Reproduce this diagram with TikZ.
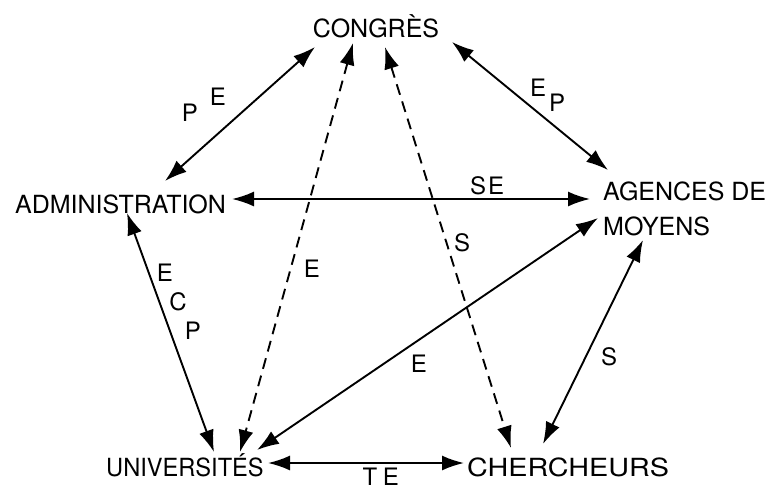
\documentclass[tikz,border=0pt]{standalone}
\usepackage{fontspec}
\setmainfont{TeX Gyre Heros}
\usetikzlibrary{arrows.meta}
\begin{document}
\begin{tikzpicture}[x=1pt,y=-1pt,
  lbl/.style={inner sep=0pt,font=\fontsize{24}{28}\selectfont},
  place/.style={inner sep=0pt,font=\fontsize{25}{34}\selectfont},
  conn/.style={line width=1.9pt,{Latex[length=22pt,width=15pt]}-{Latex[length=22pt,width=15pt]}},
  dconn/.style={conn,dash pattern=on 11pt off 7pt}]
\useasboundingbox (0,0) rectangle (769,491);
% places
\node[place,anchor=base] (cong) at (376,37) {CONGRÈS};
\node[place,anchor=base west] (adm) at (15,213) {ADMINISTRATION};
\node[place,anchor=base west] (age) at (603,200) {AGENCES DE};
\node[place,anchor=base west] (age2) at (603,235) {MOYENS};
\node[place,anchor=base west] (univ) at (106,476) {\scalebox{0.945}[1]{UNIVERSITÉS}};
\node[place,anchor=base west] (cher) at (467,476) {\scalebox{1.15}[1]{CHERCHEURS}};
% connector ends
\coordinate (c1) at (315,47);  \coordinate (a1) at (165,181);
\coordinate (c2) at (452,42);  \coordinate (g1) at (608,170);
\coordinate (a2) at (232,199); \coordinate (g2) at (590,199);
\coordinate (a3) at (127,213); \coordinate (u1) at (214,452);
\coordinate (g3) at (598,218); \coordinate (u2) at (257,450);
\coordinate (g4) at (643,240); \coordinate (h1) at (543,444);
\coordinate (u3) at (268,463); \coordinate (h2) at (464,463);
\coordinate (c3) at (353,43);  \coordinate (u4) at (240,452);
\coordinate (c4) at (385,47);  \coordinate (h3) at (511,448);
% connectors
\draw[conn] (c1) -- (a1);
\draw[conn] (c2) -- (g1);
\draw[conn] (a2) -- (g2);
\draw[conn] (a3) -- (u1);
\draw[conn] (g3) -- (u2);
\draw[conn] (g4) -- (h1);
\draw[conn] (u3) -- (h2);
\draw[dconn] (c3) -- (u4);
\draw[dconn] (c4) -- (h3);
% labels
\node[lbl] (l1) at (190,113) {P};
\node[lbl] (l2) at (218,97) {E};
\node[lbl] (l3) at (538,88) {E};
\node[lbl] (l4) at (557,103) {P};
\node[lbl] (l5) at (478,186) {S};
\node[lbl] (l6) at (496,186) {E};
\node[lbl] (l7) at (165,273) {E};
\node[lbl] (l8) at (178,302) {C};
\node[lbl] (l9) at (193,331) {P};
\node[lbl] (l10) at (312,269) {E};
\node[lbl] (l11) at (462,243) {S};
\node[lbl] (l12) at (419,364) {E};
\node[lbl] (l13) at (609,357) {S};
\node[lbl] (l14) at (370,477) {T};
\node[lbl] (l15) at (391,477) {E};
\end{tikzpicture}
\end{document}
